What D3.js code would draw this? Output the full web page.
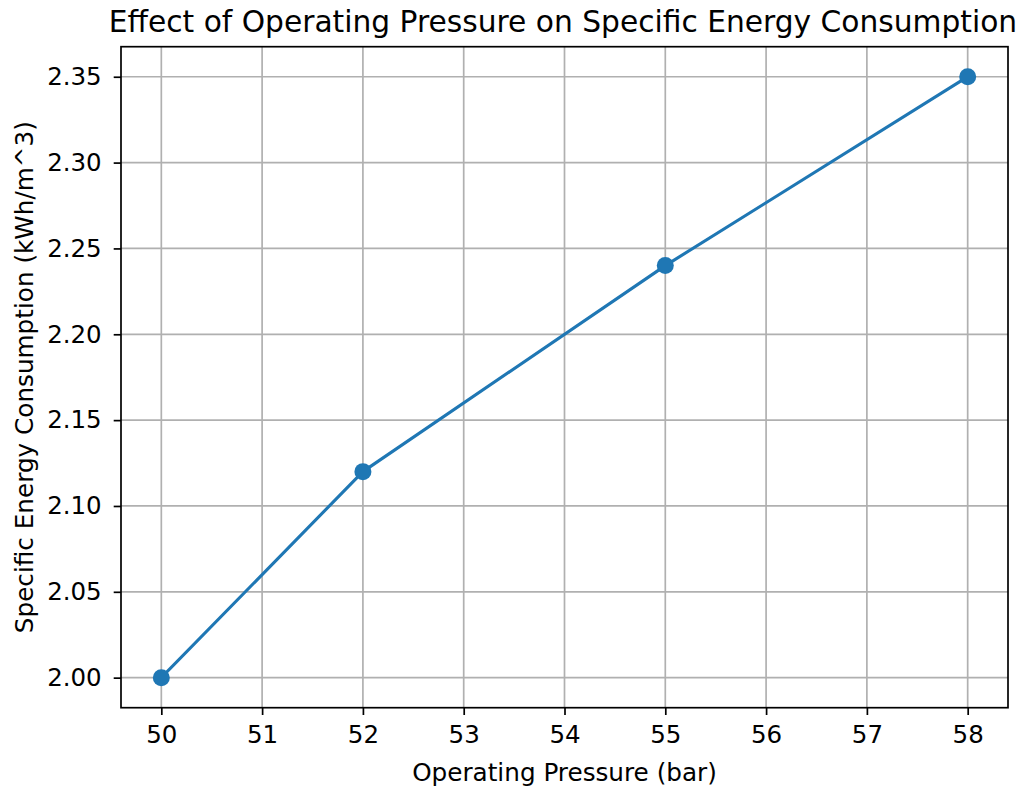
<!DOCTYPE html>
<html>
  <head>
    <meta charset="utf-8">
    <title>Operating Pressure vs Specific Energy Consumption</title>
    <script src="https://d3js.org/d3.v7.min.js" type="text/javascript"></script>
    <style>
      body { margin: 0; background: #fff; }
      text { font-family: "DejaVu Sans", sans-serif; fill: #000; }
    </style>
  </head>
  <body>
    <script>
      // data
      var pressure = [50, 52, 55, 58];
      var energy = [2.00, 2.12, 2.24, 2.35];
      var xTicks = [50, 51, 52, 53, 54, 55, 56, 57, 58];
      var yTicks = [2.00, 2.05, 2.10, 2.15, 2.20, 2.25, 2.30, 2.35];

      var titleText = "Effect of Operating Pressure on Specific Energy Consumption";
      var xLabel = "Operating Pressure (bar)";
      var yLabel = "Specific Energy Consumption (kWh/m^3)";

      //setup main document variables (plot box edges)
      var w = 1025, h = 786;
      var pLeft = 121, pRight = 1008, pTop = 46.7, pBottom = 707.7;
      var blue = "#1f77b4";

      var svg = d3.select("body")
                .append("svg")
                .attr("width", w)
                .attr("height", h);

      // matplotlib style 5% margins
      var x = d3.scaleLinear().domain([49.6, 58.4]).range([pLeft, pRight]);
      var y = d3.scaleLinear().domain([1.9825, 2.3675]).range([pBottom, pTop]);

      // grid
      svg.append("g").selectAll("line")
        .data(xTicks).enter().append("line")
        .attr("x1", function(d) { return x(d); })
        .attr("x2", function(d) { return x(d); })
        .attr("y1", pTop).attr("y2", pBottom)
        .style("stroke", "#b0b0b0").style("stroke-width", 1.7);

      svg.append("g").selectAll("line")
        .data(yTicks).enter().append("line")
        .attr("y1", function(d) { return y(d); })
        .attr("y2", function(d) { return y(d); })
        .attr("x1", pLeft).attr("x2", pRight)
        .style("stroke", "#b0b0b0").style("stroke-width", 1.7);

      // axes
      var xAxis = d3.axisBottom(x).tickValues(xTicks).tickSize(7.3).tickPadding(10.5)
                  .tickFormat(d3.format("d"));
      var yAxis = d3.axisLeft(y).tickValues(yTicks).tickSize(7.3).tickPadding(12)
                  .tickFormat(d3.format(".2f"));

      var gx = svg.append("g").attr("transform", "translate(0," + pBottom + ")").call(xAxis);
      var gy = svg.append("g").attr("transform", "translate(" + pLeft + ",0)").call(yAxis);
      [gx, gy].forEach(function(g) {
        g.select(".domain").remove();
        g.selectAll(".tick line").style("stroke", "#000").style("stroke-width", 1.7);
        g.selectAll(".tick text").style("font-size", "24.5px")
          .style("font-family", "DejaVu Sans, sans-serif").attr("fill", "#000");
      });

      // line + markers
      var pts = pressure.map(function(p, i) { return [p, energy[i]]; });
      var line = d3.line()
                 .x(function(d) { return x(d[0]); })
                 .y(function(d) { return y(d[1]); });

      svg.append("path").datum(pts)
        .attr("d", line)
        .style("fill", "none")
        .style("stroke", blue)
        .style("stroke-width", 3.1)
        .style("stroke-linecap", "square")
        .style("stroke-linejoin", "round");

      svg.append("g").selectAll("circle")
        .data(pts).enter().append("circle")
        .attr("cx", function(d) { return x(d[0]); })
        .attr("cy", function(d) { return y(d[1]); })
        .attr("r", 8.5)
        .style("fill", blue);

      // frame
      svg.append("rect")
        .attr("x", pLeft).attr("y", pTop)
        .attr("width", pRight - pLeft).attr("height", pBottom - pTop)
        .style("fill", "none").style("stroke", "#000").style("stroke-width", 1.7);

      // title and labels
      svg.append("text")
        .attr("x", (pLeft + pRight) / 2 - 1.5).attr("y", 31.5)
        .attr("text-anchor", "middle")
        .style("font-size", "29.7px")
        .text(titleText);

      svg.append("text")
        .attr("x", (pLeft + pRight) / 2).attr("y", 780.5)
        .attr("text-anchor", "middle")
        .style("font-size", "24.7px")
        .text(xLabel);

      svg.append("text")
        .attr("transform", "translate(32.5," + ((pTop + pBottom) / 2) + ") rotate(-90)")
        .attr("text-anchor", "middle")
        .style("font-size", "24.7px")
        .text(yLabel);
    </script>
  </body>
</html>
